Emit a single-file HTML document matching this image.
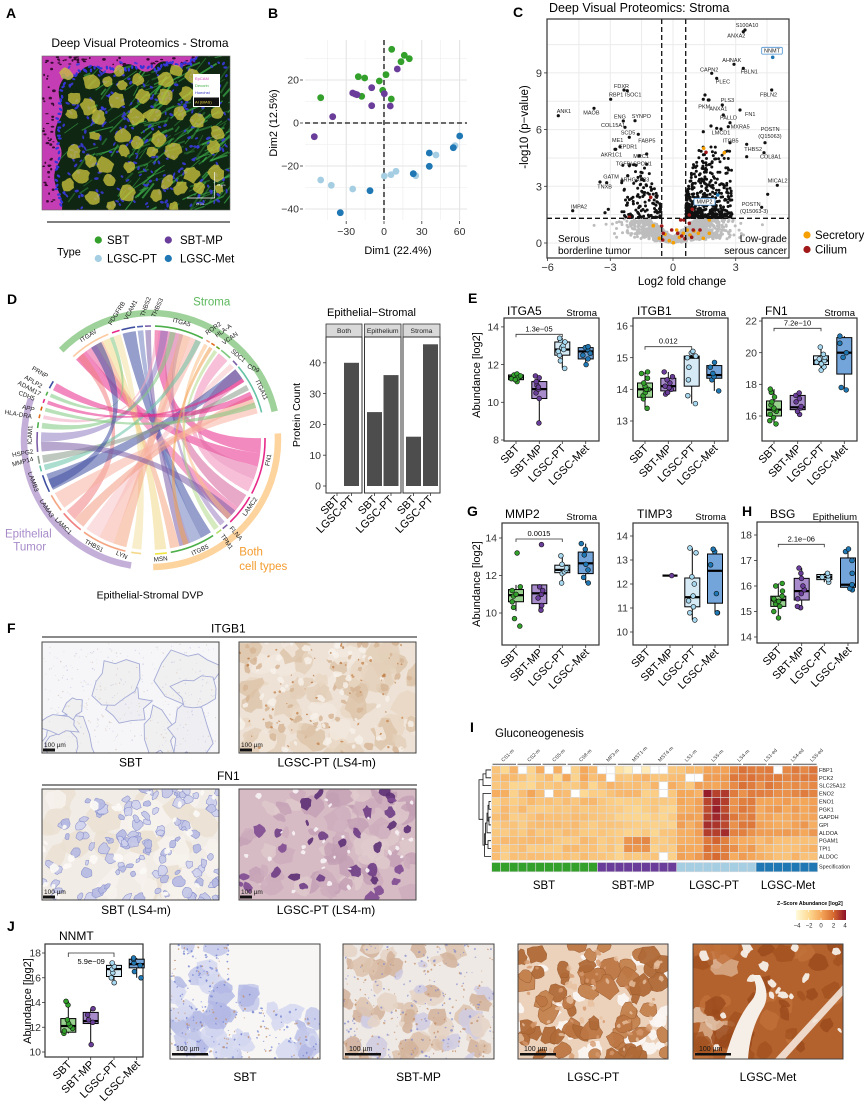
<!DOCTYPE html>
<html><head><meta charset="utf-8">
<style>
html,body{margin:0;padding:0;background:#fff}
svg{display:block;font-family:"Liberation Sans",Arial,Helvetica,sans-serif}
</style></head><body>
<svg id="s" xmlns="http://www.w3.org/2000/svg" width="865" height="1108" viewBox="0 0 865 1108">
<defs>
<clipPath id="cA"><rect x="42" y="56" width="188" height="154"/></clipPath>
<clipPath id="cF1"><rect x="42" y="642" width="177" height="111"/></clipPath>
<clipPath id="cF2"><rect x="239" y="642" width="177" height="111"/></clipPath>
<clipPath id="cF3"><rect x="42" y="789" width="177" height="111"/></clipPath>
<clipPath id="cF4"><rect x="239" y="789" width="177" height="111"/></clipPath>
<clipPath id="cJ1"><rect x="170" y="944" width="150" height="115"/></clipPath>
<clipPath id="cJ2"><rect x="343" y="944" width="151" height="115"/></clipPath>
<clipPath id="cJ3"><rect x="518" y="944" width="150" height="115"/></clipPath>
<clipPath id="cJ4"><rect x="693" y="944" width="150" height="115"/></clipPath>
<linearGradient id="cb" x1="0" x2="1" y1="0" y2="0">
<stop offset="0" stop-color="#fffadc"/><stop offset="0.25" stop-color="#fddc96"/><stop offset="0.5" stop-color="#f5a85a"/><stop offset="0.75" stop-color="#d66a30"/><stop offset="1" stop-color="#8c0f28"/></linearGradient>
</defs>
<rect width="865" height="1108" fill="#fff"/>

<!-- ============ PANEL A ============ -->
<text x="6" y="18" font-size="14" font-weight="bold">A</text>
<text x="140" y="47" font-size="12" text-anchor="middle">Deep Visual Proteomics - Stroma</text>
<g id="gA" clip-path="url(#cA)"></g>
<rect x="42" y="56" width="188" height="154" fill="none" stroke="#666" stroke-width="0.6"/>
<rect x="193" y="74" width="27" height="33" fill="#fff"/>
<text x="195" y="80" font-size="4" fill="#d040c0">EpCAM</text>
<text x="195" y="87" font-size="4" fill="#40b040">Decorin</text>
<text x="195" y="94" font-size="4" fill="#3030c0">Hoechst</text>
<rect x="194" y="97.5" width="25" height="8.5" fill="#111"/>
<text x="195" y="103.5" font-size="4" fill="#e8d840">AI (BIAS)</text>
<line x1="214.7" y1="172" x2="214.7" y2="198" stroke="#fff" stroke-width="0.7"/>
<line x1="187" y1="198" x2="215" y2="198" stroke="#fff" stroke-width="0.7"/>
<text x="217" y="186" font-size="3" fill="#fff">25 µm</text>
<text x="196" y="205" font-size="3" fill="#fff">25 µm</text>
<line x1="47" y1="222" x2="230" y2="222" stroke="#333" stroke-width="1.2"/>
<text x="57" y="255.5" font-size="11">Type</text>
<circle cx="98.3" cy="240" r="3.6" fill="#33a02c"/>
<text x="107" y="244" font-size="11.5">SBT</text>
<circle cx="168.3" cy="240" r="3.6" fill="#6a3d9a"/>
<text x="180" y="244" font-size="11.5">SBT-MP</text>
<circle cx="98.3" cy="258.5" r="3.6" fill="#a6cee3"/>
<text x="107" y="262.5" font-size="11.5">LGSC-PT</text>
<circle cx="168.3" cy="258.5" r="3.6" fill="#1f78b4"/>
<text x="180" y="262.5" font-size="11.5">LGSC-Met</text>

<!-- ============ PANEL B ============ -->
<text x="268" y="18" font-size="14" font-weight="bold">B</text>
<g stroke="#ececec" stroke-width="0.6">
<line x1="327.3" y1="40" x2="327.3" y2="220"/><line x1="365.1" y1="40" x2="365.1" y2="220"/><line x1="402.9" y1="40" x2="402.9" y2="220"/><line x1="440.7" y1="40" x2="440.7" y2="220"/>
<line x1="305" y1="58.5" x2="467" y2="58.5"/><line x1="305" y1="101.5" x2="467" y2="101.5"/><line x1="305" y1="144.5" x2="467" y2="144.5"/><line x1="305" y1="187.5" x2="467" y2="187.5"/>
</g>
<g stroke="#e4e4e4" stroke-width="1.1">
<line x1="346.2" y1="40" x2="346.2" y2="220"/><line x1="384" y1="40" x2="384" y2="220"/><line x1="421.8" y1="40" x2="421.8" y2="220"/><line x1="459.6" y1="40" x2="459.6" y2="220"/>
<line x1="305" y1="80" x2="467" y2="80"/><line x1="305" y1="123" x2="467" y2="123"/><line x1="305" y1="166" x2="467" y2="166"/><line x1="305" y1="209" x2="467" y2="209"/>
</g>
<g stroke="#333" stroke-width="0.8">
<line x1="300" y1="80" x2="303" y2="80"/><line x1="300" y1="123" x2="303" y2="123"/><line x1="300" y1="166" x2="303" y2="166"/><line x1="300" y1="209" x2="303" y2="209"/>
<line x1="346.2" y1="221" x2="346.2" y2="224"/><line x1="384" y1="221" x2="384" y2="224"/><line x1="421.8" y1="221" x2="421.8" y2="224"/><line x1="459.6" y1="221" x2="459.6" y2="224"/>
</g>
<g font-size="10.5" fill="#333" text-anchor="end">
<text x="299" y="83.7">20</text><text x="299" y="126.7">0</text><text x="299" y="169.7">−20</text><text x="299" y="212.7">−40</text>
</g>
<g font-size="10.5" fill="#333" text-anchor="middle">
<text x="346.2" y="235">−30</text><text x="384" y="235">0</text><text x="421.8" y="235">30</text><text x="459.6" y="235">60</text>
</g>
<text x="398" y="254" font-size="11" text-anchor="middle">Dim1 (22.4%)</text>
<text transform="translate(277,123) rotate(-90)" font-size="11" text-anchor="middle">Dim2 (12.5%)</text>
<line x1="384" y1="40" x2="384" y2="220" stroke="#111" stroke-width="1.3" stroke-dasharray="5,3"/>
<line x1="305" y1="123" x2="467" y2="123" stroke="#111" stroke-width="1.3" stroke-dasharray="5,3"/>
<g id="gB"></g>

<!-- ============ PANEL C ============ -->
<text x="513" y="17" font-size="14" font-weight="bold">C</text>
<text x="549" y="12" font-size="12.5">Deep Visual Proteomics: Stroma</text>
<rect x="547" y="19" width="242" height="239" fill="#fff"/>
<g stroke="#ebebeb" stroke-width="1">
<line x1="578.9" y1="19" x2="578.9" y2="258"/><line x1="610.3" y1="19" x2="610.3" y2="258"/><line x1="641.6" y1="19" x2="641.6" y2="258"/><line x1="673" y1="19" x2="673" y2="258"/><line x1="704.4" y1="19" x2="704.4" y2="258"/><line x1="735.7" y1="19" x2="735.7" y2="258"/><line x1="767" y1="19" x2="767" y2="258"/>
<line x1="547" y1="243" x2="789" y2="243"/><line x1="547" y1="214.6" x2="789" y2="214.6"/><line x1="547" y1="186.3" x2="789" y2="186.3"/><line x1="547" y1="158" x2="789" y2="158"/><line x1="547" y1="129.6" x2="789" y2="129.6"/><line x1="547" y1="101.3" x2="789" y2="101.3"/><line x1="547" y1="72.9" x2="789" y2="72.9"/><line x1="547" y1="44.6" x2="789" y2="44.6"/>
</g>
<g id="gC"></g>
<line x1="661.7" y1="19" x2="661.7" y2="258" stroke="#111" stroke-width="1.3" stroke-dasharray="5,3"/>
<line x1="685.7" y1="19" x2="685.7" y2="258" stroke="#111" stroke-width="1.3" stroke-dasharray="5,3"/>
<line x1="547" y1="218.3" x2="789" y2="218.3" stroke="#111" stroke-width="1.3" stroke-dasharray="5,3"/>
<rect x="547" y="19" width="242" height="239" fill="none" stroke="#333" stroke-width="1.2"/>
<g font-size="5.5" fill="#222">
<text x="735.7" y="27">S100A10</text><text x="727.3" y="37.7">ANXA2</text>
<text x="722.3" y="62">AHNAK</text><text x="700" y="71.3">CAPN2</text><text x="740.7" y="73.7">FBLN1</text>
<text x="715.7" y="83.7">PLEC</text><text x="760" y="96.3">FBLN2</text><text x="720.7" y="102">PLS3</text>
<text x="698.3" y="108.7">PKM</text><text x="709.3" y="110.3">ANXA1</text><text x="745" y="116">FN1</text>
<text x="720" y="119.7">PALLD</text><text x="730.7" y="128.7">MXRA5</text><text x="760.7" y="131">POSTN</text>
<text x="758.3" y="138">(Q15063)</text><text x="711.7" y="134.3">LMCD1</text><text x="722.7" y="142.7">ITGB5</text>
<text x="744.3" y="151">THBS2</text><text x="760" y="158.7">COL8A1</text><text x="767.7" y="182.7">MICAL2</text>
<text x="741.7" y="206">POSTN</text><text x="740" y="213">(Q15063-3)</text>
<text x="614" y="88">FDXR</text><text x="609" y="96.3">RBP1 ISOC1</text><text x="556.7" y="113">ANK1</text>
<text x="583.3" y="114.3">MAOB</text><text x="614" y="118.7">ENG</text><text x="631.7" y="118">SYNPO</text>
<text x="601" y="127">COL15A1</text><text x="620.7" y="134.3">SCD5</text><text x="612" y="142">ME1</text>
<text x="638.3" y="142.7">FABP5</text><text x="619" y="148.7">EPDR1</text><text x="600.7" y="156.3">AKR1C1</text>
<text x="633.3" y="158">MRC1</text><text x="615.7" y="165.3">TGFBI</text><text x="633.3" y="165.3">SPON1</text>
<text x="603.3" y="178.7">GATM</text><text x="620" y="181.3">ARHGAP23</text><text x="597.3" y="188.7">TNXB</text>
<text x="571" y="208.7">IMPA2</text>
</g>
<rect x="761.7" y="47.3" width="20.6" height="6.8" rx="1" fill="#fff" stroke="#4a8fd0" stroke-width="0.8"/>
<text x="772" y="52.7" font-size="5.5" text-anchor="middle" fill="#222">NNMT</text>
<rect x="694" y="198.3" width="21" height="6.8" rx="1" fill="#fff" stroke="#4a8fd0" stroke-width="0.8"/>
<text x="704.5" y="203.7" font-size="5.5" text-anchor="middle" fill="#222">MMP2</text>
<g font-size="10">
<text x="558" y="242">Serous</text><text x="558" y="254">borderline tumor</text>
<text x="787" y="242" text-anchor="end">Low-grade</text><text x="787" y="254" text-anchor="end">serous cancer</text>
</g>
<g stroke="#333" stroke-width="0.8">
<line x1="547.6" y1="258" x2="547.6" y2="261"/><line x1="610.3" y1="258" x2="610.3" y2="261"/><line x1="673" y1="258" x2="673" y2="261"/><line x1="735.7" y1="258" x2="735.7" y2="261"/>
<line x1="544" y1="243" x2="547" y2="243"/><line x1="544" y1="186.3" x2="547" y2="186.3"/><line x1="544" y1="129.6" x2="547" y2="129.6"/><line x1="544" y1="72.9" x2="547" y2="72.9"/>
</g>
<g font-size="11" fill="#333" text-anchor="middle">
<text x="547.6" y="271">−6</text><text x="610.3" y="271">−3</text><text x="673" y="271">0</text><text x="735.7" y="271">3</text>
</g>
<g font-size="11" fill="#333" text-anchor="end">
<text x="542" y="247">0</text><text x="542" y="190.3">3</text><text x="542" y="133.6">6</text><text x="542" y="76.9">9</text>
</g>
<text x="682" y="285" font-size="11.5" text-anchor="middle">Log2 fold change</text>
<text transform="translate(528,127) rotate(-90)" font-size="11.5" text-anchor="middle">-log10 (p−value)</text>
<circle cx="807" cy="235" r="3.6" fill="#f5a000"/>
<text x="815" y="239" font-size="11.5">Secretory</text>
<circle cx="807" cy="249.5" r="3.6" fill="#a01818"/>
<text x="815" y="253.5" font-size="11.5">Cilium</text>

<!-- ============ PANEL D ============ -->
<text x="7" y="304" font-size="14" font-weight="bold">D</text>
<g id="gD"></g>
<g font-size="6.3" fill="#222" text-anchor="middle">
<text transform="translate(40,372.3) rotate(30)" dy="2">PRNP</text>
<text transform="translate(33.3,381.7) rotate(30)" dy="2">APLP2</text>
<text transform="translate(29.3,388.3) rotate(28)" dy="2">ADAM17</text>
<text transform="translate(26.7,395.7) rotate(22)" dy="2">CDH5</text>
<text transform="translate(28.3,408.3) rotate(15)" dy="2">APP</text>
<text transform="translate(18.3,414.3) rotate(10)" dy="2">HLA-DRA</text>
<text transform="translate(30,435) rotate(-88)" dy="2">ICAM1</text>
<text transform="translate(22.7,453.3) rotate(-10)" dy="2">HSPG2</text>
<text transform="translate(22.7,461.7) rotate(-15)" dy="2">MMP14</text>
<text transform="translate(33.3,481.7) rotate(70)" dy="2">LAMB3</text>
<text transform="translate(46.7,508.3) rotate(57)" dy="2">LAMA3</text>
<text transform="translate(63.3,526) rotate(45)" dy="2">LAMC1</text>
<text transform="translate(94,545.7) rotate(28)" dy="2">THBS1</text>
<text transform="translate(121.7,555) rotate(25)" dy="2">LYN</text>
<text transform="translate(160.7,559) rotate(-5)" dy="2">MSN</text>
<text transform="translate(200,550) rotate(-25)" dy="2">ITGB5</text>
<text transform="translate(226.7,541.7) rotate(55)" dy="2">TPM1</text>
<text transform="translate(236,533.3) rotate(50)" dy="2">FLNA</text>
<text transform="translate(250,506.7) rotate(-55)" dy="2">LAMC2</text>
<text transform="translate(268.3,460) rotate(-80)" dy="2">FN1</text>
<text transform="translate(261.7,390) rotate(65)" dy="2">ITGA11</text>
<text transform="translate(253.3,368.3) rotate(25)" dy="2">CD9</text>
<text transform="translate(238.3,355.7) rotate(40)" dy="2">SDC1</text>
<text transform="translate(230,338.3) rotate(-35)" dy="2">VCAN</text>
<text transform="translate(223.3,330.7) rotate(-35)" dy="2">HLA-A</text>
<text transform="translate(213.3,328.3) rotate(-35)" dy="2">ROR2</text>
<text transform="translate(181.7,322.3) rotate(15)" dy="2">ITGA5</text>
<text transform="translate(157.3,307.7) rotate(-65)" dy="2">THBS3</text>
<text transform="translate(145.7,306.7) rotate(-70)" dy="2">THBS2</text>
<text transform="translate(130.7,310) rotate(-62)" dy="2">VCAM1</text>
<text transform="translate(116.7,313.3) rotate(-58)" dy="2">PDGFRB</text>
<text transform="translate(88.3,335.7) rotate(-32)" dy="2">ITGAV</text>
</g>
<text x="211.7" y="305.7" font-size="11.5" text-anchor="middle" fill="#5cb85c">Stroma</text>
<text x="28.3" y="537.3" font-size="11.5" text-anchor="middle" fill="#a78bc9">Epithelial</text>
<text x="29.7" y="550.7" font-size="11.5" text-anchor="middle" fill="#a78bc9">Tumor</text>
<text x="239.3" y="555.7" font-size="11.5" fill="#f39c2f">Both</text>
<text x="239.3" y="570" font-size="11.5" fill="#f39c2f">cell types</text>
<text x="150" y="598.3" font-size="10.5" text-anchor="middle">Epithelial-Stromal DVP</text>

<!-- bar chart -->
<text x="327" y="316" font-size="11">Epithelial−Stromal</text>
<g fill="#d9d9d9" stroke="#333" stroke-width="0.8">
<rect x="326" y="324" width="36" height="13"/><rect x="364.5" y="324" width="36.5" height="13"/><rect x="403" y="324" width="37" height="13"/>
</g>
<g font-size="6.8" text-anchor="middle" fill="#222">
<text x="344" y="333">Both</text><text x="382.7" y="333">Epithelium</text><text x="421.5" y="333">Stroma</text>
</g>
<g fill="#4d4d4d">
<rect x="344" y="362.8" width="15" height="123.2"/>
<rect x="367" y="412.1" width="15" height="73.9"/><rect x="383.5" y="375.1" width="15" height="110.9"/>
<rect x="406" y="436.7" width="15" height="49.3"/><rect x="423" y="344.3" width="15" height="141.7"/>
</g>
<g fill="none" stroke="#333" stroke-width="1">
<rect x="326" y="337" width="36" height="156"/><rect x="364.5" y="337" width="36.5" height="156"/><rect x="403" y="337" width="37" height="156"/>
</g>
<g stroke="#333" stroke-width="0.8">
<line x1="323" y1="486" x2="326" y2="486"/><line x1="323" y1="455.2" x2="326" y2="455.2"/><line x1="323" y1="424.4" x2="326" y2="424.4"/><line x1="323" y1="393.6" x2="326" y2="393.6"/><line x1="323" y1="362.8" x2="326" y2="362.8"/>
<line x1="337" y1="493" x2="337" y2="496"/><line x1="351.5" y1="493" x2="351.5" y2="496"/><line x1="374.5" y1="493" x2="374.5" y2="496"/><line x1="391" y1="493" x2="391" y2="496"/><line x1="413.5" y1="493" x2="413.5" y2="496"/><line x1="430.5" y1="493" x2="430.5" y2="496"/>
</g>
<g font-size="10.5" fill="#333" text-anchor="end">
<text x="321" y="489.7">0</text><text x="321" y="458.9">10</text><text x="321" y="428.1">20</text><text x="321" y="397.3">30</text><text x="321" y="366.5">40</text>
</g>
<text transform="translate(300,415) rotate(-90)" font-size="10.5" text-anchor="middle">Protein Count</text>
<g font-size="11" text-anchor="end">
<text transform="translate(340,500) rotate(-45)">SBT</text><text transform="translate(354.5,500) rotate(-45)">LGSC-PT</text>
<text transform="translate(377.5,500) rotate(-45)">SBT</text><text transform="translate(394,500) rotate(-45)">LGSC-PT</text>
<text transform="translate(416.5,500) rotate(-45)">SBT</text><text transform="translate(433.5,500) rotate(-45)">LGSC-PT</text>
</g>

<!-- ============ PANEL E ============ -->
<text x="468" y="303" font-size="14" font-weight="bold">E</text>
<g id="gE"></g>
<g font-size="12">
<text x="507" y="315">ITGA5</text><text x="637" y="315">ITGB1</text><text x="765" y="315">FN1</text>
<text x="505" y="518">MMP2</text><text x="637" y="518">TIMP3</text><text x="770" y="518">BSG</text>
<text x="59" y="940">NNMT</text>
</g>
<g font-size="9.5" text-anchor="end">
<text x="597" y="316">Stroma</text><text x="726" y="316">Stroma</text><text x="855" y="316">Stroma</text>
<text x="597" y="520">Stroma</text><text x="726" y="520">Stroma</text><text x="857" y="520">Epithelium</text>
</g>
<g font-size="10.5" fill="#333" text-anchor="end">
<text x="499" y="443.7">8</text><text x="499" y="406">10</text><text x="499" y="368.3">12</text><text x="499" y="330.6">14</text>
<text x="628" y="424.7">13</text><text x="628" y="393">14</text><text x="628" y="361.4">15</text><text x="628" y="329.7">16</text>
<text x="757" y="419.7">16</text><text x="757" y="388">18</text><text x="757" y="356.4">20</text><text x="757" y="324.7">22</text>
<text x="497" y="616.7">10</text><text x="497" y="579.2">12</text><text x="497" y="541.7">14</text>
<text x="628" y="635.7">10</text><text x="628" y="611.7">11</text><text x="628" y="587.7">12</text><text x="628" y="563.7">13</text><text x="628" y="539.7">14</text>
<text x="752" y="640.7">14</text><text x="752" y="615.2">15</text><text x="752" y="589.7">16</text><text x="752" y="564.2">17</text><text x="752" y="538.7">18</text>
<text x="41" y="1055.7">10</text><text x="41" y="1031">12</text><text x="41" y="1006.2">14</text><text x="41" y="981.5">16</text><text x="41" y="956.7">18</text>
</g>
<g font-size="11" text-anchor="middle">
<text transform="translate(480,375) rotate(-90)">Abundance [log2]</text>
<text transform="translate(480,584) rotate(-90)">Abundance [log2]</text>
<text transform="translate(31,1001) rotate(-90)">Abundance [log2]</text>
</g>
<g font-size="7.5" text-anchor="middle">
<text x="539" y="331.5">1.3e−05</text><text x="668.3" y="343.5">0.012</text><text x="797.5" y="325.5">7.2e−10</text>
<text x="539" y="536">0.0015</text><text x="801.3" y="541.7">2.1e−06</text><text x="91.2" y="964">5.9e−09</text>
</g>
<g font-size="11" text-anchor="end">
<text transform="translate(520,449) rotate(-45)">SBT</text><text transform="translate(543.3,449) rotate(-45)">SBT-MP</text><text transform="translate(566.3,449) rotate(-45)">LGSC-PT</text><text transform="translate(589.7,449) rotate(-45)">LGSC-Met</text>
<text transform="translate(649,449) rotate(-45)">SBT</text><text transform="translate(672.3,449) rotate(-45)">SBT-MP</text><text transform="translate(695.7,449) rotate(-45)">LGSC-PT</text><text transform="translate(718.3,449) rotate(-45)">LGSC-Met</text>
<text transform="translate(778,449) rotate(-45)">SBT</text><text transform="translate(801.7,449) rotate(-45)">SBT-MP</text><text transform="translate(825,449) rotate(-45)">LGSC-PT</text><text transform="translate(848.3,449) rotate(-45)">LGSC-Met</text>
<text transform="translate(520,653) rotate(-45)">SBT</text><text transform="translate(543.3,653) rotate(-45)">SBT-MP</text><text transform="translate(566.3,653) rotate(-45)">LGSC-PT</text><text transform="translate(589.7,653) rotate(-45)">LGSC-Met</text>
<text transform="translate(650.7,653) rotate(-45)">SBT</text><text transform="translate(674,653) rotate(-45)">SBT-MP</text><text transform="translate(696.3,653) rotate(-45)">LGSC-PT</text><text transform="translate(719,653) rotate(-45)">LGSC-Met</text>
<text transform="translate(782.3,651) rotate(-45)">SBT</text><text transform="translate(805.7,651) rotate(-45)">SBT-MP</text><text transform="translate(828.3,651) rotate(-45)">LGSC-PT</text><text transform="translate(852,651) rotate(-45)">LGSC-Met</text>
<text transform="translate(72.3,1065) rotate(-45)">SBT</text><text transform="translate(94.7,1065) rotate(-45)">SBT-MP</text><text transform="translate(118,1065) rotate(-45)">LGSC-PT</text><text transform="translate(140.7,1065) rotate(-45)">LGSC-Met</text>
</g>
<text x="467" y="516" font-size="14" font-weight="bold">G</text>
<text x="742" y="516" font-size="14" font-weight="bold">H</text>

<!-- ============ PANEL F ============ -->
<text x="7" y="633" font-size="14" font-weight="bold">F</text>
<text x="228.3" y="632.3" font-size="12" text-anchor="middle">ITGB1</text>
<line x1="42" y1="637" x2="417" y2="637" stroke="#444" stroke-width="1.2"/>
<g id="gF1" clip-path="url(#cF1)"></g><g id="gF2" clip-path="url(#cF2)"></g>
<g id="gF3" clip-path="url(#cF3)"></g><g id="gF4" clip-path="url(#cF4)"></g>
<g fill="none" stroke="#444" stroke-width="1">
<rect x="42" y="642" width="177" height="111"/><rect x="239" y="642" width="177" height="111"/>
<rect x="42" y="789" width="177" height="111"/><rect x="239" y="789" width="177" height="111"/>
</g>
<g fill="#111">
<rect x="43" y="748.5" width="12" height="3"/><rect x="240" y="748.5" width="12" height="3"/>
<rect x="43" y="895.5" width="12" height="3"/><rect x="240" y="895.5" width="12" height="3"/>
</g>
<g font-size="6.5" fill="#111">
<text x="44" y="747">100 µm</text><text x="241" y="747">100 µm</text>
<text x="44" y="894">100 µm</text><text x="241" y="894">100 µm</text>
</g>
<g font-size="12" text-anchor="middle">
<text x="130.7" y="766.5">SBT</text><text x="326.7" y="766.5">LGSC-PT (LS4-m)</text>
<text x="228.3" y="780">FN1</text>
<text x="136" y="914">SBT (LS4-m)</text><text x="326" y="914">LGSC-PT (LS4-m)</text>
</g>
<line x1="42" y1="785" x2="417" y2="785" stroke="#444" stroke-width="1.2"/>

<!-- ============ PANEL I ============ -->
<text x="470" y="732" font-size="14" font-weight="bold">I</text>
<text x="495" y="737" font-size="11.5">Gluconeogenesis</text>
<g font-size="5" fill="#333">
<text transform="translate(503.3,762) rotate(-45)">CS1-m</text>
<text transform="translate(529.3,762) rotate(-45)">CS2-m</text>
<text transform="translate(554.3,762) rotate(-45)">CS5-m</text>
<text transform="translate(581,762) rotate(-45)">CS8-m</text>
<text transform="translate(608.3,762) rotate(-45)">MF3-m</text>
<text transform="translate(634,762) rotate(-45)">MST1-m</text>
<text transform="translate(660,762) rotate(-45)">MST4-m</text>
<text transform="translate(686.7,762) rotate(-45)">LS1-m</text>
<text transform="translate(713.3,762) rotate(-45)">LS5-m</text>
<text transform="translate(739.3,762) rotate(-45)">LS4-m</text>
<text transform="translate(766,762) rotate(-45)">LS1-ed</text>
<text transform="translate(792.7,762) rotate(-45)">LS4-ed</text>
<text transform="translate(812,762) rotate(-45)">LS5-ed</text>
</g>
<g id="gI"></g>
<g font-size="5.5" fill="#222">
<text x="819" y="772">FBP1</text><text x="819" y="779.8">PCK2</text><text x="819" y="787.7">SLC25A12</text>
<text x="819" y="795.6">ENO2</text><text x="819" y="803.4">ENO1</text><text x="819" y="811.3">PGK1</text>
<text x="819" y="819.2">GAPDH</text><text x="819" y="827">GPI</text><text x="819" y="834.9">ALDOA</text>
<text x="819" y="842.7">PGAM1</text><text x="819" y="850.6">TPI1</text><text x="819" y="858.5">ALDOC</text>
<text x="819" y="868.7">Specification</text>
</g>
<g font-size="11.5" text-anchor="middle">
<text x="544" y="889">SBT</text><text x="633" y="889">SBT-MP</text><text x="714" y="889">LGSC-PT</text><text x="788" y="889">LGSC-Met</text>
</g>
<text x="777" y="905" font-size="5.2" font-weight="bold">Z−Score Abundance [log2]</text>
<rect x="796" y="910" width="50" height="10" fill="url(#cb)"/>
<g stroke="#fff" stroke-width="0.6">
<line x1="808.5" y1="910" x2="808.5" y2="912"/><line x1="808.5" y1="918" x2="808.5" y2="920"/>
<line x1="821" y1="910" x2="821" y2="912"/><line x1="821" y1="918" x2="821" y2="920"/>
<line x1="833.5" y1="910" x2="833.5" y2="912"/><line x1="833.5" y1="918" x2="833.5" y2="920"/>
</g>
<g font-size="6" text-anchor="middle" fill="#222">
<text x="797" y="927.5">−4</text><text x="809" y="927.5">−2</text><text x="821" y="927.5">0</text><text x="833.5" y="927.5">2</text><text x="845" y="927.5">4</text>
</g>

<!-- ============ PANEL J ============ -->
<text x="7" y="931" font-size="14" font-weight="bold">J</text>
<g id="gJ1" clip-path="url(#cJ1)"></g><g id="gJ2" clip-path="url(#cJ2)"></g>
<g id="gJ3" clip-path="url(#cJ3)"></g><g id="gJ4" clip-path="url(#cJ4)"></g>
<g fill="none" stroke="#444" stroke-width="1">
<rect x="170" y="944" width="150" height="115"/><rect x="343" y="944" width="151" height="115"/>
<rect x="518" y="944" width="150" height="115"/><rect x="693" y="944" width="150" height="115"/>
</g>
<g fill="#111">
<rect x="172" y="1053" width="36" height="2.5"/><rect x="345" y="1053" width="36" height="2.5"/>
<rect x="520" y="1053" width="36" height="2.5"/><rect x="695" y="1053" width="36" height="2.5"/>
</g>
<g font-size="7" fill="#111">
<text x="176" y="1051">100 µm</text><text x="349" y="1051">100 µm</text>
<text x="524" y="1051">100 µm</text><text x="699" y="1051">100 µm</text>
</g>
<g font-size="12" text-anchor="middle">
<text x="245" y="1081">SBT</text><text x="418.5" y="1081">SBT-MP</text><text x="593.3" y="1081">LGSC-PT</text><text x="768" y="1081">LGSC-Met</text>
</g>
</svg>
<script>
(function(){
var NS='http://www.w3.org/2000/svg';
function R(s){return function(){s|=0;s=s+0x6D2B79F5|0;var t=Math.imul(s^s>>>15,1|s);t=t+Math.imul(t^t>>>7,61|t)^t;return((t^t>>>14)>>>0)/4294967296;};}
function E(p,t,a){var e=document.createElementNS(NS,t);for(var k in a)e.setAttribute(k,a[k]);p.appendChild(e);return e;}
function G(i){return document.getElementById(i);}
function gs(r){var u=r()||1e-9,v=r();return Math.sqrt(-2*Math.log(u))*Math.cos(2*Math.PI*v);}
function blob(cx,cy,rx,ry,n,j,r,rot){var d='';for(var i=0;i<n;i++){var a=i/n*2*Math.PI,k=1+(r()-0.5)*j;var x=rx*k*Math.cos(a),y=ry*k*Math.sin(a);var X=cx+x*Math.cos(rot)-y*Math.sin(rot),Y=cy+x*Math.sin(rot)+y*Math.cos(rot);d+=(i?'L':'M')+X.toFixed(1)+','+Y.toFixed(1);}return d+'Z';}
var i,r,g,k;

/* ---------- Panel A image ---------- */
g=G('gA');r=R(21);
E(g,'rect',{x:42,y:56,width:188,height:154,fill:'#0e2612'});
for(i=0;i<420;i++){var x=55+r()*180,y=56+r()*158,w=(x-55)/180;if(r()>0.2+w*0.8)continue;var L=6+r()*20,a=-0.2-r()*0.9;E(g,'line',{x1:x.toFixed(1),y1:y.toFixed(1),x2:(x+L*Math.cos(a)).toFixed(1),y2:(y+L*Math.sin(a)).toFixed(1),stroke:'#3fb24c','stroke-width':(0.7+r()*1.4).toFixed(2),opacity:(0.3+r()*0.45).toFixed(2)});}
E(g,'path',{d:'M42,56 L198,56 Q196,62 188,64 Q178,70 170,63 Q160,58 154,68 Q146,76 136,67 Q126,60 118,70 Q108,78 98,68 Q88,62 80,72 Q72,80 64,78 Q56,88 60,100 Q66,112 58,122 Q52,134 59,144 Q65,154 57,166 Q51,178 58,190 Q63,200 62,210 L42,210Z',fill:'#c43db4'});
for(i=0;i<90;i++){var x,y;if(r()<0.55){x=45+r()*150;y=57+r()*8;}else{x=43+r()*11;y=60+r()*148;}E(g,'ellipse',{cx:x.toFixed(1),cy:y.toFixed(1),rx:(0.8+r()*1.2).toFixed(1),ry:(0.6+r()*0.8).toFixed(1),fill:'#3a0c35'});}
var edge=[[198,56],[188,64],[170,63],[154,68],[136,67],[118,70],[98,68],[80,72],[64,78],[60,100],[58,122],[59,144],[57,166],[58,190],[62,210]];
for(k=0;k<edge.length-1;k++){for(var m=0;m<5;m++){var t=m/5,x=edge[k][0]+(edge[k+1][0]-edge[k][0])*t+(r()-0.5)*3,y=edge[k][1]+(edge[k+1][1]-edge[k][1])*t+(r()-0.5)*3;E(g,'ellipse',{cx:x.toFixed(1),cy:y.toFixed(1),rx:2,ry:1.2,fill:'#3434d8',transform:'rotate('+(r()*180).toFixed(0)+' '+x.toFixed(1)+' '+y.toFixed(1)+')'});}}
for(i=0;i<280;i++){var x=62+r()*168,y=62+r()*150;E(g,'ellipse',{cx:x.toFixed(1),cy:y.toFixed(1),rx:(1.5+r()*1).toFixed(1),ry:(0.9+r()*0.5).toFixed(1),fill:'#3b3be0',opacity:0.85,transform:'rotate('+(r()*180).toFixed(0)+' '+x.toFixed(1)+' '+y.toFixed(1)+')'});}
var cs=[];for(i=0;i<600&&cs.length<50;i++){var x=64+r()*158,y=66+r()*142,ok=true;for(var q=0;q<cs.length;q++){var dx=cs[q][0]-x,dy=cs[q][1]-y;if(dx*dx+dy*dy<200){ok=false;break;}}if(ok)cs.push([x,y]);}
cs.forEach(function(c){var rx=5+r()*3.5;E(g,'path',{d:blob(c[0],c[1],rx,rx*(0.75+r()*0.3),14,0.35,r,r()*3),fill:'#c9c23e',opacity:0.78});});

/* ---------- Panel B points ---------- */
g=G('gB');
var PB={'#33a02c':[[305,148],[343,166],[358,176],[333,185],[288,224],[268,243],[278,271],[304,297],[205,230],[224,234],[215,289],[92,293]],
'#6a3d9a':[[322,207],[245,263],[188,279],[195,282],[201,284],[283,281],[245,317],[301,318],[128,350],[73,410]],
'#a6cee3':[[92,540],[124,556],[188,567],[283,528],[303,524],[318,514],[377,527],[438,465],[495,437]],
'#1f78b4':[[151,638],[240,572],[370,521],[418,499],[418,459],[490,443],[509,408]]};
Object.keys(PB).forEach(function(c){PB[c].forEach(function(p){E(g,'circle',{cx:(290+p[0]/3).toFixed(1),cy:(p[1]/3).toFixed(1),r:3.4,fill:c});});});

/* ---------- Panel C volcano ---------- */
g=G('gC');r=R(5);
function vx(v){return 673+v*20.9;}function vy(v){return 243-v*18.9;}
function dot(x,y,c,rad){E(g,'circle',{cx:vx(x).toFixed(1),cy:vy(y).toFixed(1),r:rad||1.5,fill:c});}
for(i=0;i<1500;i++){var x=gs(r)*1.05+0.2;var y=Math.abs(x)*(0.1+r()*0.9)+r()*0.3;if(y>1.28)y=0.2+r()*1.05;if(Math.abs(x)>0.55&&y>1.28)continue;if(x<-4.8||x>4.5)continue;dot(x,y,'#bdbdbd');}
for(i=0;i<450;i++){var x=0.62+Math.pow(r(),1.5)*2.2;var ym=Math.min(3.8,(x-0.35)*4.5);var y=1.35+Math.pow(r(),1.9)*ym;dot(x,y,'#111');}
for(i=0;i<120;i++){var x=-0.58-Math.pow(r(),1.4)*1.9;var ym=Math.min(3.0,(-x-0.35)*3);var y=1.35+Math.pow(r(),1.6)*ym;dot(x,y,'#111');}
var LB=[[765,90],[760,95],[732,193],[665,220],[760,205],[680,235],[845,270],[697,315],[657,300],[640,298],[750,330],[700,345],[720,368],[825,428],[715,380],[720,428],[770,433],[822,458],[862,556],[833,583],[815,622],[402,270],[412,272],[362,298],[205,347],[312,325],[400,363],[435,362],[405,382],[418,412],[377,448],[445,403],[390,440],[375,448],[470,462],[448,468],[470,493],[350,548],[413,527],[330,546],[248,632],[355,628],[345,638],[645,285],[655,300],[663,378],[680,385],[693,387],[640,395],[770,470]];
LB.forEach(function(p){E(g,'circle',{cx:(490+p[0]/3).toFixed(1),cy:(p[1]/3).toFixed(1),r:1.6,fill:'#111'});});
var OR=[[490,677],[508,715],[525,703],[538,722],[550,728],[568,712],[580,700],[600,705],[612,693],[625,700],[640,715],[658,660],[658,700],[641,445],[703,458],[592,690],[560,690]];
OR.forEach(function(p){E(g,'circle',{cx:(490+p[0]/3).toFixed(1),cy:(p[1]/3).toFixed(1),r:1.8,fill:'#f5a000'});});
var DR=[[515,678],[520,700],[518,720],[572,660],[582,660],[563,700],[575,708],[585,716],[605,712],[610,690],[630,690],[648,457],[418,652],[482,592],[598,645],[607,628],[598,670],[545,690]];
DR.forEach(function(p){E(g,'circle',{cx:(490+p[0]/3).toFixed(1),cy:(p[1]/3).toFixed(1),r:1.8,fill:'#a01818'});});
E(g,'circle',{cx:772.7,cy:57.3,r:1.8,fill:'#1f78b4'});E(g,'circle',{cx:717.7,cy:195,r:1.8,fill:'#1f78b4'});

/* ---------- Panel D chord ---------- */
g=G('gD');
var CX=151,CY=440;
function P(a,rr){var t=(a-90)*Math.PI/180;return (CX+rr*Math.cos(t)).toFixed(1)+','+(CY+rr*Math.sin(t)).toFixed(1);}
function arc(a1,a2,rr,col,w){E(g,'path',{d:'M'+P(a1,rr)+' A'+rr+','+rr+' 0 '+((a2-a1)>180?1:0)+' 1 '+P(a2,rr),fill:'none',stroke:col,'stroke-width':w});}
arc(-45,77,127,'#9fd29b',6.5);arc(87,179,127,'#fdd49e',6.5);arc(189,289,127,'#c4afd9',6.5);
var SEC=[[-43,-22,'#fdc9a0'],[-20,-16,'#e7298a'],[-15,-8,'#3f4fa0'],[-7,-4,'#5060b0'],[-3,0,'#7b5ea7'],[2,27,'#4daf4a'],[29,31,'#f4a582'],[32,34,'#e07020'],[35,37,'#66a61e'],[38,44,'#7fc97f'],[46,49,'#7b5ea7'],[50,76,'#66c2a5'],
[89,118,'#e7298a'],[120,136,'#e7298a'],[138,141,'#7b5ea7'],[142,145,'#b3de69'],[147,170,'#4daf4a'],[172,178,'#f0e442'],
[185,190,'#f5d98b'],[193,216,'#f4a582'],[218,230,'#f08080'],[232,241,'#f4a582'],[243,252,'#3f4fa0'],[254,257,'#66c2a5'],[258,262,'#8a9a8a'],[264,274,'#7b5ea7'],[276,279,'#4daf4a'],[281,283,'#e07020'],[285,287,'#d95f02'],[289,291,'#e7298a'],[293,295,'#4daf4a'],[297,301,'#3f4fa0']];
SEC.forEach(function(s){arc(s[0],s[1],114,s[2],1.6);});
var RB=[[89,97,2,9,'#e7298a'],[97,104,-43,-36,'#e7298a'],[104,111,50,58,'#e46aa6'],[111,118,38,44,'#f08cb8'],[120,128,9,15,'#d6609a'],[128,136,-36,-30,'#ea5a9a'],[138,141,15,17,'#9b7fc1'],[142,145,35,37,'#b5d98a'],[147,153,-15,-8,'#3f4fa0'],[153,159,-7,-4,'#6f7fbf'],[159,165,-3,0,'#7b5ea7'],[165,170,-30,-26,'#f4a582'],[172,178,-26,-22,'#f3d98b'],[185,190,-20,-16,'#f3e0a0'],[193,200,15,21,'#f4a582'],[200,208,21,27,'#f7b1a4'],[208,216,46,49,'#f8c3c6'],[218,224,66,71,'#f39a84'],[224,230,-42,-38,'#f08080'],[232,241,71,76,'#f7b0a0'],[243,252,50,56,'#3f4fa0'],[254,257,24,27,'#66c2a5'],[258,262,60,63,'#8a9a8a'],[264,269,130,136,'#7b5ea7'],[269,274,5,9,'#8f7bc0'],[276,279,10,13,'#7fc97f'],[281,283,2,4,'#f4a6c0'],[285,287,70,73,'#7fc97f'],[289,291,56,58,'#e7298a'],[293,295,-22,-20,'#7fc97f'],[297,301,64,68,'#e7298a'],[29,31,133,136,'#fdc086'],[32,34,160,163,'#f0a050'],[-33,-27,244,249,'#3f4fa0']];
RB.forEach(function(b){var rr=110;E(g,'path',{d:'M'+P(b[0],rr)+' A'+rr+','+rr+' 0 0 1 '+P(b[1],rr)+' Q'+CX+','+CY+' '+P(b[2],rr)+' A'+rr+','+rr+' 0 0 1 '+P(b[3],rr)+' Q'+CX+','+CY+' '+P(b[0],rr)+'Z',fill:b[4],'fill-opacity':0.55});});

/* ---------- Box plots ---------- */
g=G('gE');
var CL=[{p:'#33a02c',f:'#99d18f'},{p:'#6a3d9a',f:'#a78bcb'},{p:'#a6d8f0',f:'#d5eaf5'},{p:'#1f78b4',f:'#74a5da'}];
function frame(x,y,w,h,ticks,yf){E(g,'rect',{x:x,y:y,width:w,height:h,fill:'#fff',stroke:'#333','stroke-width':1.2});ticks.forEach(function(t){E(g,'line',{x1:x-3,y1:yf(t),x2:x,y2:yf(t),stroke:'#333','stroke-width':0.8});});}
function bxp(xs,yf,D,seed,by){var rr=R(seed);D.forEach(function(d,j){if(!d)return;var x=xs[j],c=CL[j];
 E(g,'line',{x1:x,y1:yf(d[3]),x2:x,y2:yf(d[4]),stroke:'#000','stroke-width':1});
 if(d[0]!==d[2])E(g,'rect',{x:x-7.5,y:yf(d[2]),width:15,height:(yf(d[0])-yf(d[2])).toFixed(2),fill:c.f,stroke:'#000','stroke-width':1});
 E(g,'line',{x1:x-7.5,y1:yf(d[1]),x2:x+7.5,y2:yf(d[1]),stroke:'#000','stroke-width':2.2});
 d[5].forEach(function(v){E(g,'circle',{cx:(x+(rr()-0.5)*9).toFixed(1),cy:yf(v).toFixed(1),r:2.4,fill:c.p,stroke:'#111','stroke-width':0.6});});
 E(g,'line',{x1:x,y1:by,x2:x,y2:by+3,stroke:'#333','stroke-width':0.8});
});}
function brk(x1,x2,y){E(g,'path',{d:'M'+x1+','+(y+3)+' L'+x1+','+y+' L'+x2+','+y+' L'+x2+','+(y+3),fill:'none',stroke:'#333','stroke-width':0.8});}
var f;
f=function(v){return 440-(v-8)*18.85;};frame(504,318,95,123,[8,10,12,14],f);
bxp([516,539.3,562.3,585.7],f,[[11.2,11.35,11.45,11.1,11.5,[11.1,11.25,11.3,11.35,11.4,11.45,11.5,11.3,11.2,11.4]],[10.2,10.7,11.1,8.9,11.4,[8.9,10.2,10.5,10.7,10.9,11.1,11.3,11.4,10.8]],[12.5,12.8,13.2,11.8,13.4,[11.8,12.2,12.5,12.7,12.9,13.0,13.2,13.3,13.4,12.8]],[12.3,12.7,12.9,12.0,12.95,[12.0,12.3,12.5,12.8,12.9,12.95,12.6]]],1,441);
brk(516,562.3,334.3);
f=function(v){return 421-(v-13)*31.67;};frame(633,318,95,123,[13,14,15,16],f);
bxp([645,668.3,691.7,714.3],f,[[13.75,14.0,14.2,13.4,14.55,[13.4,13.7,13.8,13.9,14.0,14.0,14.1,14.2,14.35,14.5,14.55]],[13.95,14.1,14.35,13.85,14.55,[13.85,13.9,14.0,14.05,14.1,14.2,14.3,14.4,14.55]],[14.1,15.0,15.05,13.55,15.2,[13.55,13.8,14.3,14.7,15.0,15.05,15.15,15.2]],[14.35,14.45,14.75,13.95,14.85,[13.95,14.3,14.4,14.5,14.7,14.85]]],2,441);
brk(645,691.7,346.7);
f=function(v){return 416-(v-16)*15.83;};frame(762,318,95,123,[16,18,20,22],f);
bxp([774,797.7,821,844.3],f,[[16.0,16.4,16.95,15.5,17.7,[15.5,15.7,15.9,16.1,16.3,16.4,16.5,16.7,16.9,17.2,17.5,17.7]],[16.4,16.55,17.3,16.1,17.45,[16.1,16.3,16.5,16.6,16.9,17.1,17.3,17.45]],[19.25,19.5,19.8,18.9,20.35,[18.9,19.1,19.3,19.4,19.5,19.6,19.7,19.9,20.35]],[18.65,20.0,20.95,17.65,21.05,[17.65,17.8,19.7,20.0,20.6,21.05]]],3,441);
brk(774,821,328.3);
f=function(v){return 613-(v-10)*18.75;};frame(502,523,97,122,[10,12,14],f);
bxp([516,539.3,562.3,585.7],f,[[10.6,10.95,11.25,10.1,11.5,[9.3,9.7,10.3,10.6,10.9,11.0,11.2,11.4,13.2]],[10.5,11.05,11.5,10.15,11.5,[10.15,10.4,10.8,11.0,11.2,11.4,13.65]],[12.15,12.3,12.55,11.6,13.05,[11.6,12.1,12.2,12.3,12.4,12.6,13.05]],[12.1,12.65,13.25,11.6,13.7,[11.6,11.9,12.3,12.6,13.1,13.4,13.7]]],4,645);
brk(516,562.3,539);
f=function(v){return 632-(v-10)*24;};frame(633,523,95,122,[10,11,12,13,14],f);
bxp([646.7,670,692.3,715],f,[null,[12.35,12.35,12.35,12.35,12.35,[12.35]],[11.05,11.45,12.25,10.5,13.5,[10.5,10.8,11.05,11.3,11.5,12.0,12.3,13.3,13.5]],[11.2,12.55,13.25,10.8,13.45,[10.8,10.8,11.6,12.8,13.35,13.45]]],5,645);
E(g,'line',{x1:646.7,y1:645,x2:646.7,y2:648,stroke:'#333','stroke-width':0.8});
f=function(v){return 637-(v-14)*25.5;};frame(757,522,101,121,[14,15,16,17,18],f);
bxp([778.3,801.7,824.3,848],f,[[15.2,15.45,15.6,14.75,16.1,[14.75,15.0,15.2,15.3,15.4,15.45,15.5,15.6,15.8,16.0,16.1]],[15.45,15.8,16.3,15.15,16.7,[15.15,15.2,15.5,15.7,15.85,16.0,16.3,16.5,16.7]],[16.25,16.35,16.45,16.15,16.5,[16.15,16.25,16.35,16.4,16.5]],[15.95,16.05,17.1,15.85,17.45,[15.85,15.9,16.05,16.5,17.0,17.35,17.45]]],6,643);
brk(778.3,824.3,544.3);
f=function(v){return 1052-(v-10)*12.375;};frame(45,944,98,113,[10,12,14,16,18],f);
bxp([68.3,90.7,114,136.7],f,[[11.6,12.1,12.7,11.5,14.1,[11.5,11.7,11.9,12.1,12.3,12.6,13.8,14.1]],[12.3,12.5,13.2,10.6,13.5,[10.6,12.4,12.6,13.0,13.5]],[16.1,16.7,17.0,15.6,17.3,[15.6,16.0,16.4,16.7,16.9,17.2]],[16.8,17.1,17.5,16.0,17.6,[16.0,16.5,17.0,17.2,17.5,17.6]]],7,1057);
E(g,'path',{d:'M68.3,957 L68.3,953 L114,953 L114,957',fill:'none',stroke:'#333','stroke-width':0.8});

/* ---------- textures ---------- */
function tex(id,x,y,w,h,base,layers,seed){var gg=G(id),rr=R(seed);E(gg,'rect',{x:x,y:y,width:w,height:h,fill:base});
 layers.forEach(function(L){for(var kk=0;kk<L.n;kk++){var cx=x+rr()*w,cy=y+rr()*h;if(L.f&&!L.f((cx-x)/w,(cy-y)/h,rr))continue;var rx=L.r[0]+rr()*(L.r[1]-L.r[0]),ry=rx*(0.5+rr()*0.6);
 var a={d:blob(cx,cy,rx,ry,12,L.j||0.4,rr,rr()*3.14),fill:L.c[Math.floor(rr()*L.c.length)],opacity:L.o||1};if(L.s){a.stroke=L.s;a['stroke-width']=L.sw||0.7;}E(gg,'path',a);}});}
tex('gF1',42,642,177,111,'#f6f6f8',[{n:10,r:[14,30],c:['#efeff3','#f1f0f0'],s:'#a4abd6',sw:0.9,j:0.8},{n:350,r:[0.4,0.8],c:['#c9cde6','#d8c9c0'],o:0.8}],31);
tex('gF2',239,642,177,111,'#ede2d5',[{n:70,r:[6,16],c:['#e3cfb9','#dcc3a8','#f2e9df','#e9d7c3'],o:0.8,j:0.6},{n:90,r:[2,5],c:['#f7f2ec','#d4b494'],o:0.8},{n:70,r:[0.6,1.6],c:['#c5864f','#b9773f'],o:0.8}],32);
tex('gF3',42,789,177,111,'#f1ece5',[{n:40,r:[8,18],c:['#f6f2ec','#ebe1d3'],o:0.9},{n:200,r:[2.5,6],c:['#c4c7e8','#b6bae3','#d0d2ee'],s:'#8890cc',sw:0.6,o:0.9,f:function(u,v,q){return q()<0.3+0.65*u;}},{n:25,r:[2,5],c:['#fbf9f6'],o:0.95}],33);
tex('gF4',239,789,177,111,'#d6bac4',[{n:70,r:[6,14],c:['#cdadbd','#e0cacd','#c39fb4'],o:0.8},{n:32,r:[3,7],c:['#6e3d85','#7f4b92','#5c2f74'],o:0.9},{n:30,r:[1,3],c:['#f7f0f3'],o:0.95}],34);
function notWhite(u,v){return !(u>0.4&&v<0.4)&&!(u>0.55&&v<0.55);}
tex('gJ1',170,944,150,115,'#f7f6f4',[{n:70,r:[6,14],c:['#c3c8ea','#b3b9e4','#d5d8f0'],o:0.85,f:notWhite},{n:350,r:[0.6,1.3],c:['#6f7fd0','#8290d8','#c29070'],o:0.8,f:notWhite}],41);
tex('gJ2',343,944,151,115,'#efe9e5',[{n:70,r:[5,12],c:['#dcc2ad','#d2b29a','#e5d3c5','#cfcbe2'],o:0.85,f:function(u,v){return !(u>0.75&&v<0.3);}},{n:260,r:[0.6,1.3],c:['#7d86cc','#c08b62'],o:0.7}],42);
tex('gJ3',518,944,150,115,'#ecd1bb',[{n:35,r:[4,9],c:['#fbf6f2'],o:0.95},{n:60,r:[6,12],c:['#bd7744','#c4824f','#b06a38'],o:0.95,s:'#9a5a2c',sw:0.5},{n:60,r:[1.5,4],c:['#d69a6e','#e7c0a0'],o:0.8}],43);
tex('gJ4',693,944,150,115,'#b4622d',[{n:30,r:[6,16],c:['#e4c9b3','#d9ad8c'],o:0.85,f:function(u,v){return u<0.25;}},{n:45,r:[5,12],c:['#a3531f','#c0713a','#9a4a1c'],o:0.8},{n:18,r:[2,6],c:['#f6efe8'],o:0.95}],44);
E(G('gJ4'),'path',{d:'M725,1059 Q735,1020 752,1000 Q760,990 752,975 L760,975 Q772,995 762,1010 Q750,1030 748,1059Z',fill:'#f6efe8'});
E(G('gJ4'),'path',{d:'M775,1059 L843,985 L843,995 L785,1059Z',fill:'#f3e6da',opacity:0.9});

/* ---------- heatmap ---------- */
g=G('gI');
var HX=491.7,HY=766,CW=8.81,RH=7.86;
var stops=[[-4,[255,250,218]],[-2,[253,218,148]],[0,[245,168,90]],[2,[214,104,48]],[4,[140,15,40]]];
function col(v){v=Math.max(-4,Math.min(4,v));for(var kk=0;kk<4;kk++){if(v<=stops[kk+1][0]){var t=(v-stops[kk][0])/2,a=stops[kk][1],b=stops[kk+1][1];return 'rgb('+[0,1,2].map(function(j){return Math.round(a[j]+(b[j]-a[j])*t);}).join(',')+')';}}return 'rgb(140,15,40)';}
var NA={'0,3':1,'0,6':1,'0,8':1,'0,12':1,'0,13':1,'0,16':1,'0,18':1,'0,19':1,'0,32':1,'1,13':1,'1,22':1,'1,23':1,'2,19':1,'3,6':1,'3,9':1,'3,19':1,'11,19':1};
var hr=R(77),ri,ci;
for(ri=0;ri<12;ri++)for(ci=0;ci<37;ci++){var v,n=hr()-0.5;
 if(ci<12){v=(ri<4?-0.9+n*2.2:-1.1+n*1.0);}
 else if(ci<21){v=(ri==0?-2.2+n*2:ri<4?-1.0+n*1.6:-1.5+n*0.8);if((ri==9||ri==10)&&ci>=15&&ci<=17)v=0.6+n;}
 else if(ci<30){if(ci>=24&&ci<=26){v=(ri>=3&&ri<=8)?3.2+n*1.2:ri<3?0.5+n:1.6+n;}else if(ci>=27){v=ri<3?1.4+n:ri<=8?1.1+n:0.3+n;}else{v=ri<3?-0.3+n*2:0+n;}}
 else{v=ri<3?1.3+n*1.4:ri==3?0.9+n:ri<=8?0.1+n:-0.5+n*1.2;}
 E(g,'rect',{x:(HX+ci*CW).toFixed(2),y:(HY+ri*RH).toFixed(2),width:CW.toFixed(2),height:RH.toFixed(2),fill:NA[ri+','+ci]?'#ffffff':col(v),stroke:'#dcdcdc','stroke-width':0.6});}
for(ci=0;ci<37;ci++){E(g,'rect',{x:(HX+ci*CW).toFixed(2),y:862.5,width:CW.toFixed(2),height:9.3,fill:ci<12?'#33a02c':ci<21?'#6a3d9a':ci<30?'#a6cee3':'#1f78b4',stroke:'#dcdcdc','stroke-width':0.6});}
for(k=0;k<13;k++){var x1=HX+k*25.05+0.8,x2=Math.min(HX+(k+1)*25.05-0.8,HX+37*CW);E(g,'line',{x1:x1.toFixed(1),y1:764.3,x2:x2.toFixed(1),y2:764.3,stroke:'#555','stroke-width':1});}
function yc(ii){return 766+RH*(ii+0.5);}
function jn(x,a,b){E(g,'path',{d:'M'+a[0]+','+a[1]+' L'+x+','+a[1]+' L'+x+','+b[1]+' L'+b[0]+','+b[1],fill:'none',stroke:'#111','stroke-width':0.8});return [x,(a[1]+b[1])/2];}
function leaf(ii){return [491,yc(ii)];}
var na=jn(486,leaf(0),leaf(1));var nb=jn(483,na,leaf(2));
var c1=jn(489,leaf(4),leaf(5)),c2=jn(489,leaf(6),leaf(7));var c3=jn(488,c1,c2);var c4=jn(487,c3,leaf(8));
var d1=jn(488,leaf(9),leaf(10));var e1=jn(485.5,c4,d1);var f1=jn(484.5,e1,leaf(11));var g1=jn(483,leaf(3),f1);
jn(479,nb,g1);
})();
</script>
</body></html>
